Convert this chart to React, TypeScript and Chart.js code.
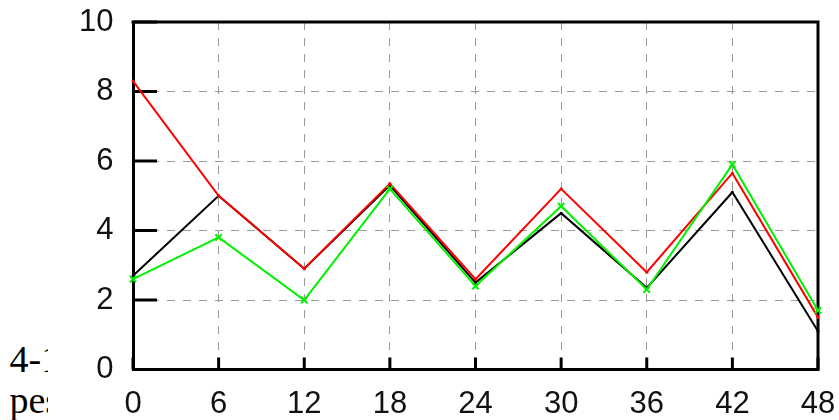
import React, { useEffect, useRef } from "react";
import { Chart, registerables } from "chart.js";

Chart.register(...registerables);

const xValues = [0, 6, 12, 18, 24, 30, 36, 42, 48];
const blackSeries = [2.7, 5.0, 2.9, 5.3, 2.5, 4.5, 2.35, 5.1, 1.1];
const redSeries = [8.3, 5.0, 2.9, 5.35, 2.6, 5.2, 2.8, 5.65, 1.5];
const greenSeries = [2.6, 3.8, 2.0, 5.2, 2.4, 4.7, 2.3, 5.9, 1.7];
const xTickValues = [0, 6, 12, 18, 24, 30, 36, 42, 48];
const yTickValues = [0, 2, 4, 6, 8, 10];
const textLines = ["4-1", "pes"];

const CANVAS_W = 791;
const CANVAS_H = 420;

const frameAndTicksPlugin = {
  id: "frameAndTicks",
  beforeDatasetsDraw(chart: any) {
    const { ctx, chartArea, scales } = chart;
    const { left, top, right, bottom } = chartArea;
    ctx.save();
    ctx.strokeStyle = "#000";
    ctx.lineWidth = 3;
    ctx.lineCap = "butt";
    ctx.beginPath();
    ctx.moveTo(left - 1.5, top);
    ctx.lineTo(right, top);
    ctx.lineTo(right, bottom + 1.5);
    ctx.stroke();
    // inward major ticks on the left axis
    ctx.beginPath();
    for (const v of yTickValues) {
      const py = scales.y.getPixelForValue(v);
      ctx.moveTo(left, py);
      ctx.lineTo(left + 24, py);
    }
    // inward major ticks on the bottom axis
    for (const v of xTickValues) {
      const px = scales.x.getPixelForValue(v);
      ctx.moveTo(px, bottom);
      ctx.lineTo(px, bottom - 12);
    }
    ctx.stroke();
    ctx.restore();
  },
};

export default function App() {
  const canvasRef = useRef<HTMLCanvasElement | null>(null);

  useEffect(() => {
    if (!canvasRef.current) return;
    const toPts = (ys: number[]) => xValues.map((x, i) => ({ x, y: ys[i] }));
    const chart = new Chart(canvasRef.current, {
      type: "line",
      data: {
        datasets: [
          {
            label: "green",
            data: toPts(greenSeries),
            borderColor: "#00f000",
            backgroundColor: "#00f000",
            borderWidth: 2,
            pointStyle: "crossRot",
            pointRadius: 4.5,
            pointBorderWidth: 2,
            tension: 0,
            clip: false as any,
          },
          {
            label: "red",
            data: toPts(redSeries),
            borderColor: "#ff0000",
            backgroundColor: "#ff0000",
            borderWidth: 2,
            pointRadius: 1.5,
            pointBorderWidth: 0,
            tension: 0,
            clip: false as any,
          },
          {
            label: "black",
            data: toPts(blackSeries),
            borderColor: "#000000",
            backgroundColor: "#000000",
            borderWidth: 2,
            pointRadius: 1.5,
            pointBorderWidth: 0,
            tension: 0,
            clip: false as any,
          },
        ],
      },
      options: {
        animation: false,
        responsive: false,
        devicePixelRatio: 1,
        layout: { padding: { left: 0, top: 22, right: 21, bottom: 0 } },
        plugins: {
          legend: { display: false },
          tooltip: { enabled: false },
          title: { display: false },
        },
        scales: {
          x: {
            type: "linear",
            position: "bottom",
            min: 0,
            max: 48,
            afterBuildTicks: (scale: any) => {
              scale.ticks = xTickValues.map((v) => ({ value: v }));
            },
            afterFit: (scale: any) => {
              scale.height = 50.5;
              scale.paddingLeft = 0;
              scale.paddingRight = 0;
            },
            grid: {
              color: "#9a9a9a",
              lineWidth: 1,
              drawTicks: false,
            } as any,
            border: { display: true, color: "#000", width: 3, dash: [8, 8] } as any,
            ticks: {
              padding: 16,
              color: "#111",
              font: { family: "'Liberation Sans', Arial, sans-serif", size: 31 },
              maxRotation: 0,
              autoSkip: false,
              callback: (v: any) => String(v),
            },
          },
          y: {
            type: "linear",
            position: "left",
            min: 0,
            max: 10,
            afterBuildTicks: (scale: any) => {
              scale.ticks = yTickValues.map((v) => ({ value: v }));
            },
            afterFit: (scale: any) => {
              scale.width = 85;
              scale.paddingTop = 0;
              scale.paddingBottom = 0;
            },
            grid: {
              color: "#9a9a9a",
              lineWidth: 1,
              drawTicks: false,
            } as any,
            border: { display: true, color: "#000", width: 3, dash: [8, 8] } as any,
            ticks: {
              padding: 19.5,
              color: "#111",
              font: { family: "'Liberation Sans', Arial, sans-serif", size: 31 },
              autoSkip: false,
              callback: (v: any) => String(v),
            },
          },
        },
      },
      plugins: [frameAndTicksPlugin],
    } as any);
    return () => chart.destroy();
  }, []);

  return (
    <div
      style={{
        position: "fixed",
        left: 0,
        top: 0,
        width: 839,
        height: 420,
        overflow: "hidden",
        background: "#fff",
      }}
    >
      {textLines.map((t, i) => (
        <div
          key={i}
          style={{
            position: "absolute",
            left: 9.5,
            top: i === 0 ? 340 : 381,
            fontFamily: "'Liberation Serif', serif",
            fontSize: 38,
            lineHeight: "38px",
            color: "#000",
            whiteSpace: "nowrap",
          }}
        >
          {t}
        </div>
      ))}
      <canvas
        ref={canvasRef}
        width={CANVAS_W}
        height={CANVAS_H}
        style={{
          position: "absolute",
          left: 48,
          top: 0,
          width: CANVAS_W,
          height: CANVAS_H,
          background: "#fff",
        }}
      />
    </div>
  );
}
